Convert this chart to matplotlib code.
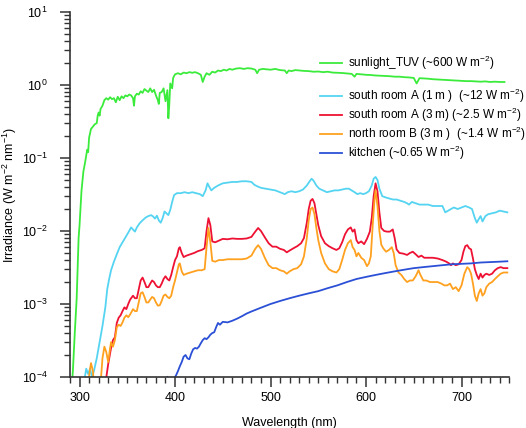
import matplotlib
matplotlib.use("Agg")
import matplotlib.pyplot as plt
from matplotlib.ticker import MultipleLocator, LogLocator

plt.rcParams['font.family'] = ['Liberation Sans', 'DejaVu Sans']
plt.rcParams['mathtext.default'] = 'regular'

# ---------------- data ----------------
sun_wl = [292, 293, 295, 297, 299, 300, 302, 304, 306, 308, 309, 310, 312, 314, 316, 318, 319, 320, 321, 322,
          324, 326, 328, 330, 332, 334, 336, 338, 340, 342, 344, 346, 348, 350, 352, 354, 356, 357, 358, 360,
          362, 364, 366, 368, 370, 372, 374, 376, 378, 380, 382, 383, 384, 386, 388, 390, 392, 393, 394, 395,
          397, 398, 400, 403, 406, 409, 412, 415, 418, 421, 424, 427, 429, 431, 433, 436, 439, 442, 445, 448,
          451, 454, 457, 460, 464, 468, 472, 476, 480, 484, 486, 488, 492, 496, 500, 505, 510, 515, 517, 519,
          522, 526, 530, 535, 540, 545, 550, 555, 560, 565, 570, 575, 580, 585, 588, 590, 595, 600, 605, 610,
          615, 620, 625, 630, 635, 640, 645, 650, 653, 656, 660, 665, 670, 675, 680, 685, 690, 695, 700, 705,
          710, 715, 720, 725, 730, 735, 740, 745]
sun_val = [8e-5, 1.2e-4, 4e-4, 1.2e-3, 8e-3, 0.012, 0.035, 0.065, 0.09, 0.13, 0.12, 0.19, 0.25, 0.27, 0.29, 0.30, 0.38, 0.42, 0.38, 0.47,
           0.52, 0.62, 0.66, 0.63, 0.68, 0.64, 0.66, 0.58, 0.69, 0.62, 0.70, 0.66, 0.72, 0.70, 0.74, 0.72, 0.66, 0.52, 0.70, 0.76,
           0.74, 0.82, 0.78, 0.88, 0.84, 0.80, 0.90, 0.80, 0.86, 0.72, 0.62, 0.55, 0.78, 0.80, 0.90, 0.60, 0.85, 0.35, 0.55, 1.05,
           0.90, 1.25, 1.40, 1.45, 1.40, 1.48, 1.45, 1.50, 1.47, 1.50, 1.45, 1.38, 1.10, 1.30, 1.45, 1.38, 1.52, 1.48, 1.58, 1.55,
           1.62, 1.58, 1.66, 1.62, 1.68, 1.70, 1.66, 1.70, 1.68, 1.62, 1.45, 1.62, 1.66, 1.64, 1.62, 1.66, 1.60, 1.58, 1.45, 1.58,
           1.55, 1.60, 1.58, 1.56, 1.55, 1.52, 1.53, 1.50, 1.52, 1.48, 1.47, 1.46, 1.44, 1.42, 1.30, 1.42, 1.40, 1.38, 1.37, 1.35,
           1.34, 1.33, 1.32, 1.30, 1.30, 1.28, 1.27, 1.25, 1.05, 1.24, 1.23, 1.22, 1.20, 1.19, 1.18, 1.17, 1.16, 1.15, 1.14, 1.13,
           1.13, 1.12, 1.11, 1.12, 1.10, 1.11, 1.10, 1.10]

roomA1_wl = [305, 307, 309, 311, 313, 315, 318, 321, 324, 327, 329, 331, 333, 336, 339, 342, 345, 348, 351, 354,
             356, 358, 360, 363, 366, 369, 372, 375, 377, 379, 381, 383, 385, 387, 389, 391, 393, 395, 397, 399,
             402, 406, 410, 414, 418, 422, 426, 429, 432, 434, 436, 438, 441, 445, 450, 455, 460, 465, 470, 475,
             480, 483, 486, 490, 495, 500, 505, 510, 515, 518, 522, 526, 530, 534, 538, 541, 543, 545, 548, 551,
             555, 559, 563, 567, 571, 575, 579, 582, 585, 588, 591, 594, 597, 600, 603, 606, 608, 610, 612, 614,
             617, 620, 624, 628, 632, 636, 640, 643, 645, 648, 652, 656, 660, 665, 670, 675, 680, 683, 686, 689,
             692, 696, 700, 704, 708, 711, 714, 716, 718, 720, 722, 725, 728, 732, 736, 740, 744, 748]
roomA1_val = [9e-5, 1.3e-4, 1.1e-4, 1.3e-4, 1.0e-4, 1.2e-4, 1.8e-4, 3.0e-4, 5e-4, 9e-4, 1.6e-3, 2.2e-3, 2.9e-3, 3.8e-3, 4.8e-3, 6e-3, 7e-3, 8.2e-3, 9.5e-3, 0.0112,
              0.0105, 0.0098, 0.0112, 0.0128, 0.014, 0.0152, 0.016, 0.0165, 0.0158, 0.0148, 0.0162, 0.0140, 0.0130, 0.0150, 0.0185, 0.0175, 0.0165, 0.0195, 0.025, 0.031,
              0.033, 0.033, 0.034, 0.033, 0.034, 0.033, 0.032, 0.030, 0.036, 0.045, 0.040, 0.036, 0.039, 0.042, 0.045, 0.046, 0.047, 0.047, 0.048, 0.048,
              0.047, 0.043, 0.041, 0.039, 0.038, 0.037, 0.036, 0.034, 0.032, 0.034, 0.035, 0.034, 0.035, 0.037, 0.042, 0.048, 0.052, 0.049, 0.042, 0.038,
              0.036, 0.034, 0.035, 0.036, 0.036, 0.037, 0.038, 0.038, 0.036, 0.034, 0.032, 0.033, 0.032, 0.033, 0.035, 0.042, 0.052, 0.055, 0.050, 0.038,
              0.030, 0.029, 0.028, 0.027, 0.027, 0.026, 0.025, 0.024, 0.023, 0.025, 0.024, 0.023, 0.023, 0.023, 0.022, 0.022, 0.022, 0.018, 0.019, 0.020,
              0.021, 0.020, 0.021, 0.022, 0.021, 0.020, 0.015, 0.013, 0.0145, 0.016, 0.0135, 0.016, 0.017, 0.0175, 0.018, 0.019, 0.0185, 0.018]

roomA3_wl = [327, 330, 333, 335, 337, 339, 341, 343, 345, 347, 349, 351, 353, 356, 358, 360, 362, 364, 366, 368,
             370, 372, 374, 376, 378, 380, 382, 384, 386, 388, 390, 392, 394, 396, 398, 400, 402, 404, 405, 407,
             409, 412, 416, 420, 424, 428, 431, 433, 435, 437, 439, 442, 446, 450, 455, 460, 465, 470, 475, 480,
             484, 487, 490, 494, 498, 502, 506, 510, 514, 517, 520, 524, 528, 532, 535, 538, 540, 542, 544, 546,
             548, 550, 553, 557, 561, 565, 569, 572, 575, 578, 581, 584, 586, 588, 590, 592, 595, 598, 601, 604,
             606, 608, 610, 612, 614, 616, 619, 622, 625, 628, 630, 632, 635, 639, 643, 646, 649, 652, 655, 658,
             661, 665, 670, 675, 680, 684, 687, 689, 691, 694, 697, 700, 702, 704, 706, 708, 710, 712, 714, 716,
             718, 720, 722, 724, 726, 729, 732, 735, 738, 741, 744, 748]
roomA3_val = [8e-5, 1.5e-4, 2.5e-4, 3.2e-4, 3.5e-4, 5.5e-4, 6.5e-4, 7e-4, 8e-4, 9e-4, 8.5e-4, 1.0e-3, 1.15e-3, 1.3e-3, 1.2e-3, 1.2e-3, 1.6e-3, 2.1e-3, 2.3e-3, 2.0e-3,
              1.7e-3, 1.7e-3, 1.9e-3, 2.1e-3, 2.0e-3, 1.8e-3, 1.7e-3, 1.7e-3, 1.9e-3, 2.2e-3, 2.4e-3, 2.2e-3, 2.1e-3, 2.5e-3, 3.2e-3, 4.0e-3, 4.5e-3, 5.8e-3, 6.0e-3, 5.0e-3,
              4.4e-3, 4.6e-3, 4.8e-3, 5.0e-3, 5.3e-3, 5.5e-3, 5.8e-3, 0.0100, 0.0150, 0.0120, 0.0072, 0.0070, 0.0074, 0.0078, 0.0077, 0.0079, 0.0078, 0.0078, 0.0079, 0.0083,
              0.0098, 0.0110, 0.0100, 0.0082, 0.0068, 0.0061, 0.0061, 0.0057, 0.0055, 0.0051, 0.0054, 0.0058, 0.0062, 0.0068, 0.0080, 0.0130, 0.0200, 0.0260, 0.0275, 0.0240,
              0.0170, 0.0120, 0.0085, 0.0068, 0.0062, 0.0058, 0.0055, 0.0058, 0.0070, 0.0090, 0.0105, 0.0112, 0.0098, 0.0105, 0.0075, 0.0068, 0.0072, 0.0066, 0.0078, 0.0098,
              0.0150, 0.0300, 0.0450, 0.0350, 0.0180, 0.0110, 0.0100, 0.0098, 0.0098, 0.0105, 0.0080, 0.0056, 0.0050, 0.0049, 0.0047, 0.0050, 0.0052, 0.0048, 0.0044, 0.0046,
              0.0043, 0.0043, 0.0043, 0.0042, 0.0040, 0.0038, 0.0036, 0.0034, 0.0036, 0.0034, 0.0035, 0.0040, 0.0052, 0.0062, 0.0064, 0.0058, 0.0056, 0.0042, 0.0030, 0.0025,
              0.0022, 0.0026, 0.0023, 0.0025, 0.0026, 0.0025, 0.0026, 0.0029, 0.0031, 0.0032, 0.0031, 0.0031]

roomB3_wl = [309, 311, 312, 314, 315, 318, 322, 324, 326, 328, 330, 332, 333, 335, 337, 339, 341, 343, 345, 347,
             349, 351, 353, 356, 358, 360, 362, 364, 366, 368, 370, 372, 374, 376, 378, 380, 382, 384, 386, 388,
             390, 392, 394, 396, 398, 400, 402, 404, 405, 407, 409, 412, 416, 420, 424, 428, 431, 433, 435, 437,
             439, 442, 446, 450, 455, 460, 465, 470, 475, 480, 484, 487, 490, 494, 498, 502, 506, 510, 514, 517,
             520, 524, 528, 532, 535, 538, 540, 542, 544, 546, 548, 550, 553, 557, 561, 565, 569, 572, 575, 578,
             581, 584, 586, 588, 590, 592, 595, 598, 601, 603, 605, 607, 609, 610, 612, 614, 616, 618, 621, 624,
             627, 629, 631, 634, 637, 640, 643, 646, 649, 652, 655, 657, 660, 663, 667, 671, 675, 679, 682, 685,
             688, 691, 694, 697, 700, 703, 706, 708, 710, 712, 714, 716, 718, 720, 722, 724, 726, 729, 732, 735,
             738, 741, 744, 748]
roomB3_val = [8e-5, 1.3e-4, 1.55e-4, 1.2e-4, 8e-5, 6e-5, 8e-5, 1.8e-4, 2.6e-4, 2.2e-4, 1.6e-4, 2.5e-4, 3.0e-4, 2.6e-4, 3.2e-4, 4.8e-4, 5.2e-4, 5.0e-4, 5.6e-4, 6.5e-4,
              7.0e-4, 6.6e-4, 7.2e-4, 8.5e-4, 8.0e-4, 8.0e-4, 1.05e-3, 1.4e-3, 1.45e-3, 1.25e-3, 1.05e-3, 1.05e-3, 1.15e-3, 1.25e-3, 1.2e-3, 1.05e-3, 9.5e-4, 9.6e-4, 1.1e-3, 1.3e-3,
              1.35e-3, 1.25e-3, 1.2e-3, 1.3e-3, 1.7e-3, 2.1e-3, 2.7e-3, 3.5e-3, 3.6e-3, 2.8e-3, 2.5e-3, 2.6e-3, 2.7e-3, 2.8e-3, 2.9e-3, 2.9e-3, 3.0e-3, 6.0e-3, 0.0110, 0.0070,
              0.0039, 0.0038, 0.0040, 0.0040, 0.0041, 0.0041, 0.0041, 0.0041, 0.0042, 0.0046, 0.0057, 0.0064, 0.0057, 0.0043, 0.0034, 0.0031, 0.0031, 0.0029, 0.0028, 0.0026,
              0.0028, 0.0030, 0.0031, 0.0035, 0.0045, 0.0080, 0.0140, 0.0200, 0.0210, 0.0170, 0.0110, 0.0075, 0.0050, 0.0036, 0.0030, 0.0028, 0.0027, 0.0030, 0.0040, 0.0055,
              0.0068, 0.0075, 0.0060, 0.0055, 0.0045, 0.0050, 0.0043, 0.0040, 0.0033, 0.0036, 0.0045, 0.0120, 0.0280, 0.0360, 0.0220, 0.0100, 0.0065, 0.0058, 0.0052, 0.0055,
              0.0060, 0.0050, 0.0034, 0.0027, 0.0025, 0.0022, 0.0020, 0.0021, 0.0021, 0.0024, 0.0029, 0.0025, 0.0021, 0.0021, 0.0020, 0.0020, 0.0020, 0.0019, 0.0018, 0.0018,
              0.0019, 0.0016, 0.0017, 0.0015, 0.0018, 0.0026, 0.0032, 0.0030, 0.0026, 0.0019, 0.0013, 0.0011, 0.0014, 0.0016, 0.0013, 0.0014, 0.0017, 0.0019, 0.0020, 0.0022,
              0.0024, 0.0026, 0.0027, 0.0027]

kitchen_wl = [392, 394, 399, 401, 403, 405, 407, 409, 411, 413, 415, 417, 419, 421, 423, 425, 427, 429, 431, 433,
              435, 437, 439, 441, 443, 445, 447, 450, 455, 460, 465, 470, 475, 480, 490, 500, 510, 520, 530, 540,
              550, 560, 570, 580, 590, 600, 610, 620, 630, 640, 650, 660, 670, 680, 690, 700, 710, 720, 730, 740, 748]
kitchen_val = [1.0e-4, 9e-5, 9.5e-5, 1.05e-4, 1.2e-4, 1.4e-4, 1.6e-4, 1.9e-4, 2.0e-4, 1.8e-4, 1.75e-4, 2.1e-4, 2.4e-4, 2.5e-4, 2.45e-4, 2.6e-4, 2.9e-4, 3.2e-4, 3.4e-4, 3.3e-4,
               3.5e-4, 3.8e-4, 4.0e-4, 4.1e-4, 4.8e-4, 5.5e-4, 5.2e-4, 5.7e-4, 5.6e-4, 5.9e-4, 6.3e-4, 6.8e-4, 7.4e-4, 7.9e-4, 8.9e-4, 1.0e-3, 1.1e-3, 1.2e-3, 1.3e-3, 1.4e-3,
               1.5e-3, 1.65e-3, 1.8e-3, 2.0e-3, 2.2e-3, 2.35e-3, 2.5e-3, 2.65e-3, 2.8e-3, 2.95e-3, 3.1e-3, 3.2e-3, 3.3e-3, 3.4e-3, 3.5e-3, 3.55e-3, 3.6e-3, 3.7e-3, 3.75e-3, 3.8e-3, 3.85e-3]

labels = ["sunlight_TUV (~600 W m$^{-2}$)",
          "south room A (1 m )  (~12 W m$^{-2}$)",
          "south room A (3 m) (~2.5 W m$^{-2}$)",
          "north room B (3 m )  (~1.4 W m$^{-2}$)",
          "kitchen (~0.65 W m$^{-2}$)"]
colors = ["#3BEB3B", "#55D4F2", "#EE1133", "#FFA11F", "#2B50D6"]

# ---------------- figure ----------------
W, H = 526, 428
fig = plt.figure(figsize=(W / 100, H / 100), dpi=100)
ax = fig.add_axes([70 / W, 1 - 377 / H, (509.75 - 70.5) / W, (377 - 12) / H])

series = [(sun_wl, sun_val), (roomA1_wl, roomA1_val), (roomA3_wl, roomA3_val),
          (roomB3_wl, roomB3_val), (kitchen_wl, kitchen_val)]
handles = []
for (wl, v), c, lab in zip(series, colors, labels):
    h, = ax.plot(wl, v, color=c, lw=1.3, label=lab, solid_joinstyle='round')
    handles.append(h)

ax.set_yscale('log')
ax.set_xlim(290, 750)
ax.set_ylim(1e-4, 10)
ax.xaxis.set_major_locator(MultipleLocator(100))
ax.xaxis.set_minor_locator(MultipleLocator(10))
ax.yaxis.set_major_locator(LogLocator(base=10, numticks=10))
ax.yaxis.set_minor_locator(LogLocator(base=10, subs=range(2, 10), numticks=20))

for s in ['top', 'right']:
    ax.spines[s].set_visible(False)
for s in ['left', 'bottom']:
    ax.spines[s].set_color('#333333')
    ax.spines[s].set_linewidth(1.2)
ax.tick_params(which='major', direction='out', length=7, width=1.1, colors='#333333',
               labelsize=9, labelcolor='black')
ax.tick_params(axis='y', which='major', pad=9)
ax.tick_params(which='minor', direction='out', length=4, width=1.0, colors='#333333')

ax.set_xlabel("Wavelength (nm)", fontsize=9, labelpad=10)
ax.set_ylabel("Irradiance (W m$^{-2}$ nm$^{-1}$)", fontsize=9, labelpad=2)

leg_kw = dict(frameon=False, fontsize=8.5, handlelength=1.9, handletextpad=0.45,
              borderpad=0, borderaxespad=0, loc='upper left', labelspacing=0.07)
leg1 = fig.legend(handles=handles[:1], labels=labels[:1],
                  bbox_to_anchor=(320 / W, 1 - 54 / H), **leg_kw)
leg2 = fig.legend(handles=handles[1:], labels=labels[1:],
                  bbox_to_anchor=(320 / W, 1 - 87 / H), **leg_kw)

fig.savefig("out.png", dpi=100)
